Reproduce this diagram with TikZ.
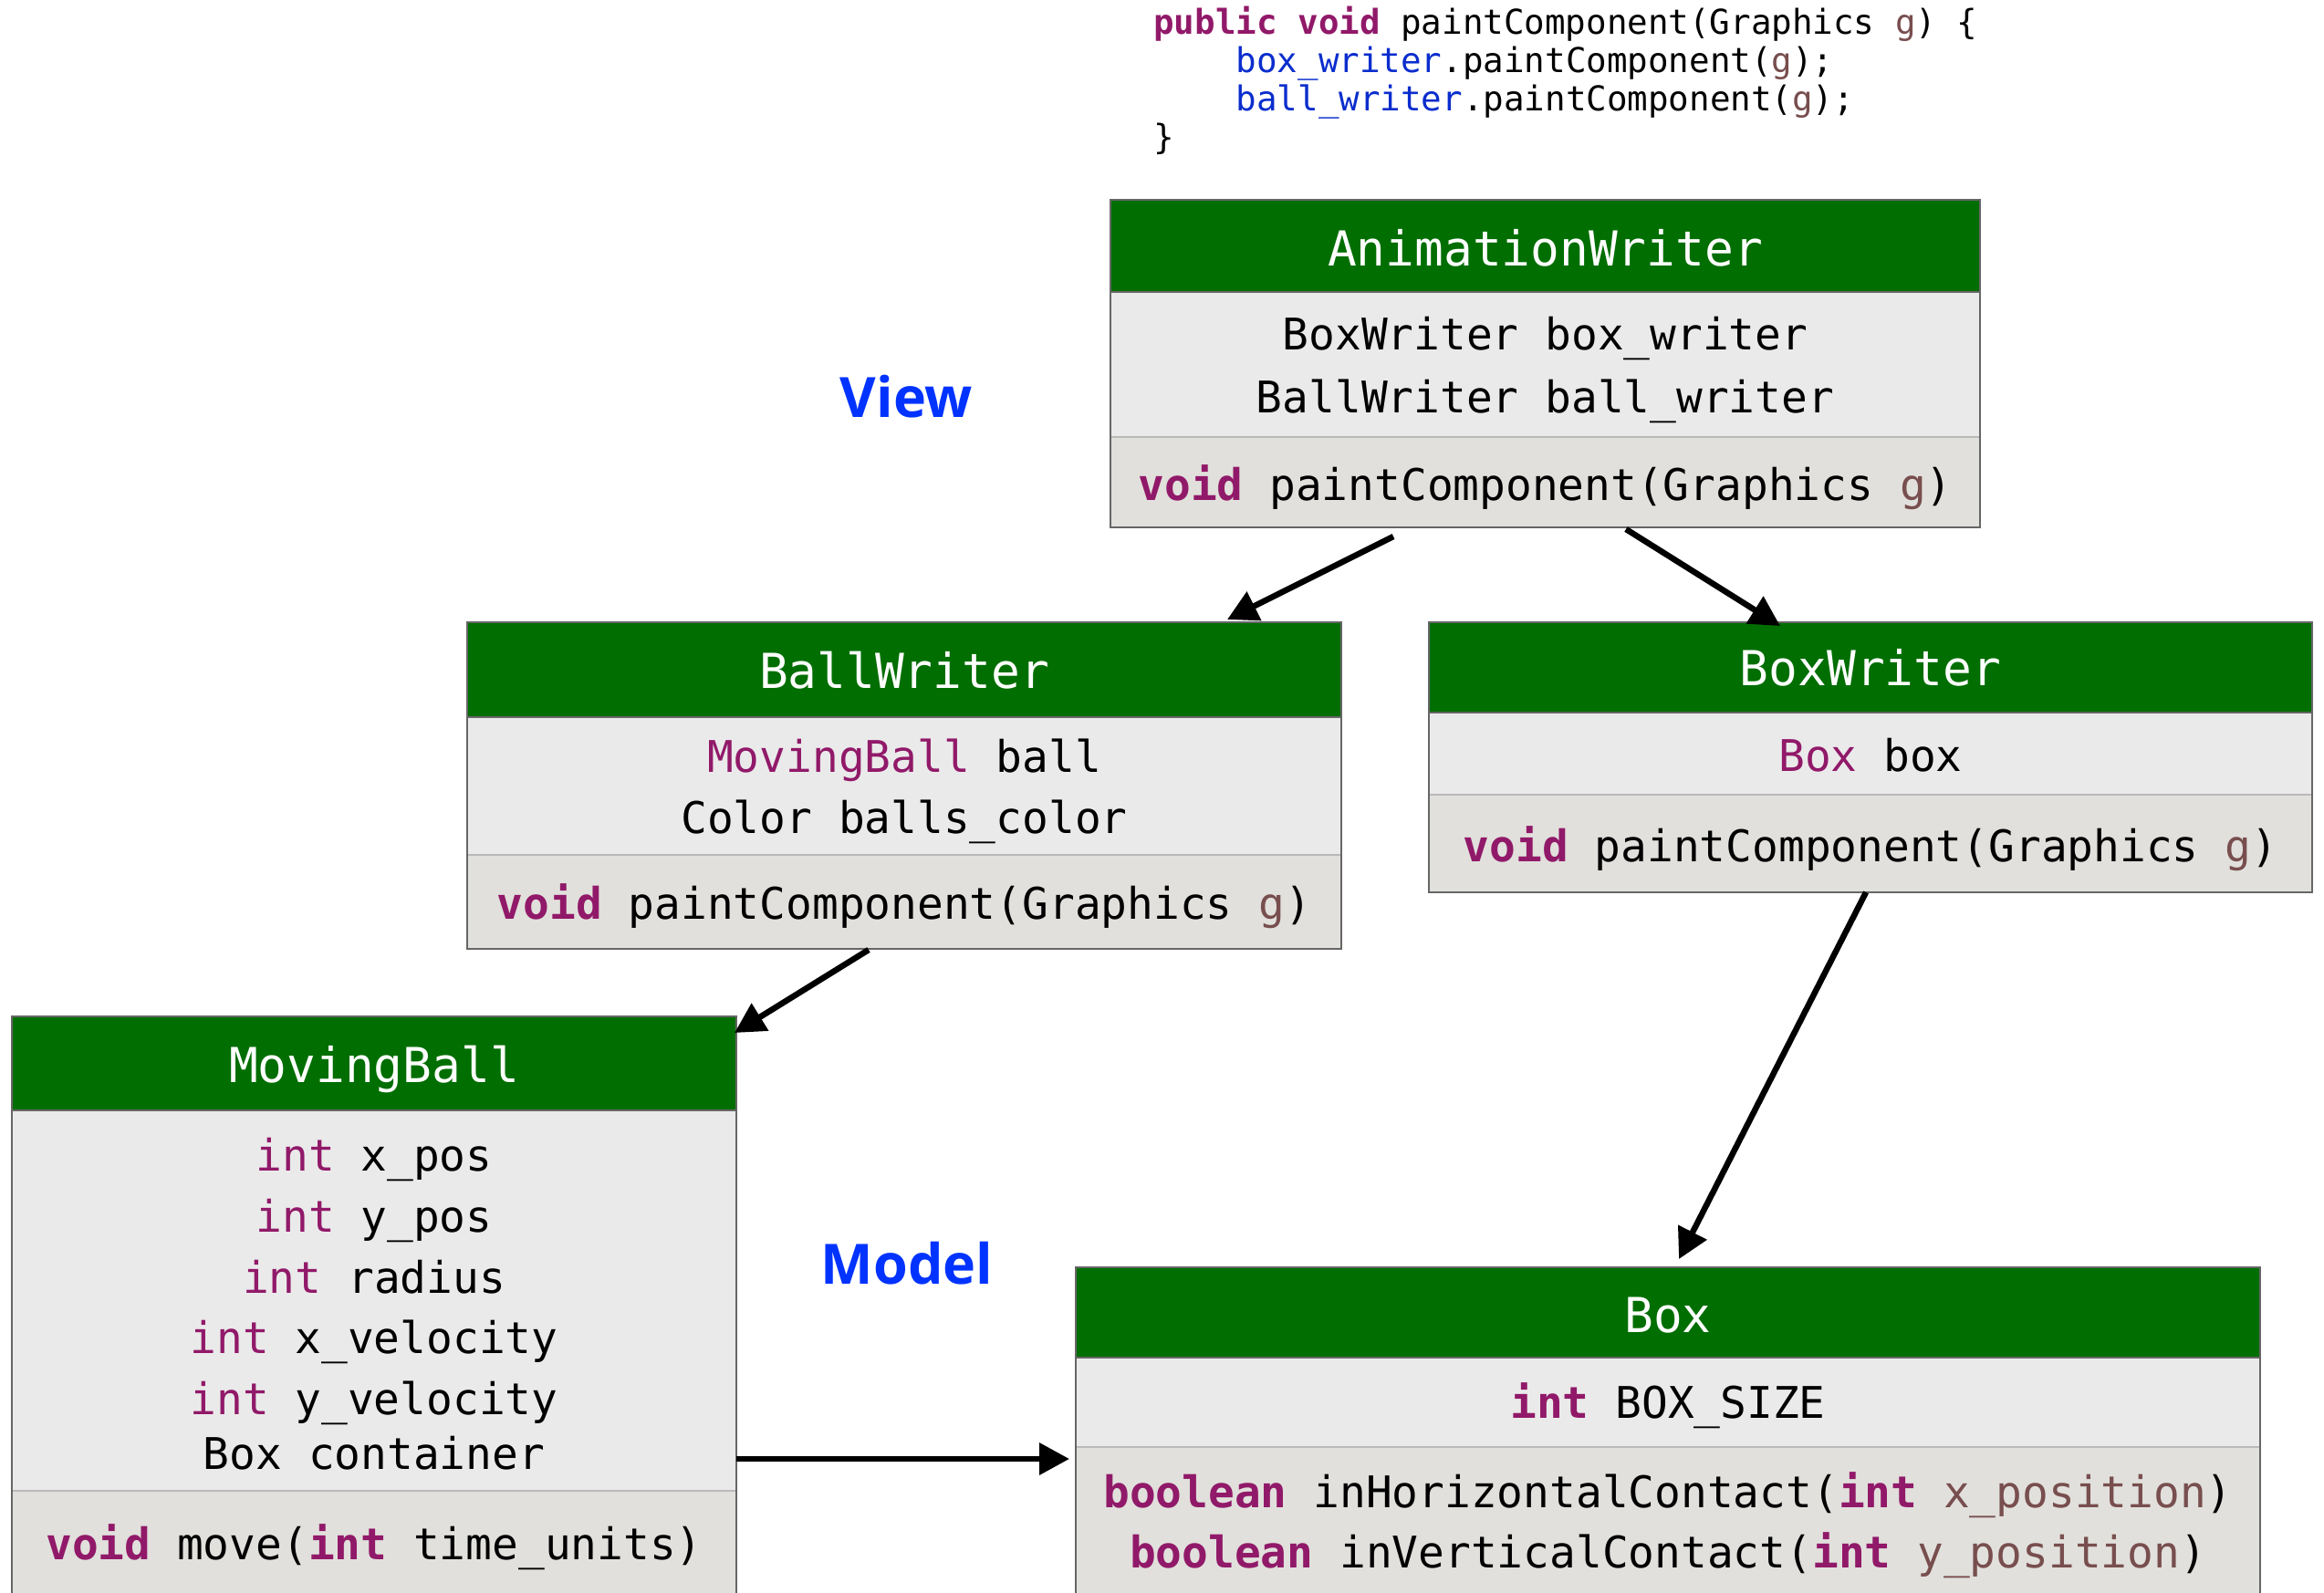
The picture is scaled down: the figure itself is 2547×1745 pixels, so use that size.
\documentclass[tikz,border=0pt]{standalone}
\usepackage{fontspec}
\setmonofont{DejaVu Sans Mono}
\newfontfamily\labelfont{Open Sans}
\usetikzlibrary{arrows.meta}
\definecolor{hdrgreen}{RGB}{0,110,0}
\definecolor{attrgray}{RGB}{234,234,234}
\definecolor{methgray}{RGB}{225,224,220}
\definecolor{framegray}{RGB}{102,102,102}
\definecolor{sepgray}{RGB}{185,185,185}
\definecolor{kwpurple}{RGB}{145,25,105}
\definecolor{parbrown}{RGB}{120,78,78}
\definecolor{fieldblue}{RGB}{10,45,205}
\definecolor{labelblue}{RGB}{0,51,255}
\newcommand\kw[1]{\textcolor{kwpurple}{\bfseries #1}}
\newcommand\ty[1]{\textcolor{kwpurple}{#1}}
\newcommand\pa[1]{\textcolor{parbrown}{#1}}
\newcommand\fd[1]{\textcolor{fieldblue}{#1}}
\frenchspacing
\begin{document}
\begin{tikzpicture}[x=0.5pt,y=-0.5pt,
  titletext/.style={anchor=base, text=white, font=\fontsize{26.4}{30}\selectfont\ttfamily, inner sep=0},
  rowtext/.style={anchor=base, text=black, font=\fontsize{23.9}{28}\selectfont\ttfamily, inner sep=0},
  codetext/.style={anchor=base west, text=black, font=\fontsize{18.75}{21}\selectfont\ttfamily, inner sep=0},
  classframe/.style={draw=framegray, line width=1pt, inner sep=0, outer sep=0, anchor=north west},
  hdrline/.style={draw=framegray, line width=1pt},
  sepline/.style={draw=sepgray, line width=1pt},
  conn/.style={-{Triangle[length=16.5pt,width=17pt]}, line width=3.25pt, black},
  layerlabel/.style={anchor=base, text=labelblue, font=\fontsize{30.5}{36}\selectfont\labelfont\bfseries, inner sep=0}]
\useasboundingbox (0,0) rectangle (2547,1745);
\clip (0,0) rectangle (2547,1745);

% code snippet
\node[codetext] (code0) at (1264,37) {\kw{public} \kw{void} paintComponent(Graphics \pa{g}) \{};
\node[codetext] (code1) at (1354.4,79) {\fd{box\_writer}.paintComponent(\pa{g});};
\node[codetext] (code2) at (1354.4,121) {\fd{ball\_writer}.paintComponent(\pa{g});};
\node[codetext] (code3) at (1264,163) {\}};

% labels
\node[layerlabel] (viewlbl) at (993.5,457) {View};
\node[layerlabel] (modellbl) at (994,1407) {Model};

% AnimationWriter
\fill[hdrgreen] (1217,219) rectangle (2170,320);
\fill[attrgray] (1217,320) rectangle (2170,479);
\fill[methgray] (1217,479) rectangle (2170,578);
\draw[sepline] (1217,479) -- (2170,479);
\draw[hdrline] (1217,320) -- (2170,320);
\node[classframe, minimum width=476.5pt, minimum height=179.5pt] (aw) at (1217,219) {};
\node[titletext] (awt) at (1693.5,291) {AnimationWriter};
\node[rowtext] (aw1) at (1693.5,383) {BoxWriter box\_writer};
\node[rowtext] (aw2) at (1693.5,452) {BallWriter ball\_writer};
\node[rowtext] (aw3) at (1693.5,548) {\kw{void} paintComponent(Graphics \pa{g})};

% BallWriter
\fill[hdrgreen] (512,682) rectangle (1470,786);
\fill[attrgray] (512,786) rectangle (1470,937);
\fill[methgray] (512,937) rectangle (1470,1040);
\draw[sepline] (512,937) -- (1470,937);
\draw[hdrline] (512,786) -- (1470,786);
\node[classframe, minimum width=479pt, minimum height=179pt] (ballw) at (512,682) {};
\node[titletext] (ballwt) at (991,754) {BallWriter};
\node[rowtext] (ballw1) at (991,846) {\ty{MovingBall} ball};
\node[rowtext] (ballw2) at (991,913) {Color balls\_color};
\node[rowtext] (ballw3) at (991,1007) {\kw{void} paintComponent(Graphics \pa{g})};

% BoxWriter
\fill[hdrgreen] (1566,682) rectangle (2534,781);
\fill[attrgray] (1566,781) rectangle (2534,871);
\fill[methgray] (1566,871) rectangle (2534,978);
\draw[sepline] (1566,871) -- (2534,871);
\draw[hdrline] (1566,781) -- (2534,781);
\node[classframe, minimum width=484pt, minimum height=148pt] (boxw) at (1566,682) {};
\node[titletext] (boxwt) at (2050,751) {BoxWriter};
\node[rowtext] (boxw1) at (2050,845) {\ty{Box} box};
\node[rowtext] (boxw2) at (2050,944) {\kw{void} paintComponent(Graphics \pa{g})};

% MovingBall
\fill[hdrgreen] (13,1114) rectangle (807,1217);
\fill[attrgray] (13,1217) rectangle (807,1634);
\fill[methgray] (13,1634) rectangle (807,1760);
\draw[sepline] (13,1634) -- (807,1634);
\draw[hdrline] (13,1217) -- (807,1217);
\node[classframe, minimum width=397pt, minimum height=323pt] (mb) at (13,1114) {};
\node[titletext] (mbt) at (410,1186) {MovingBall};
\node[rowtext] (mb1) at (410,1283) {\ty{int} x\_pos};
\node[rowtext] (mb2) at (410,1350) {\ty{int} y\_pos};
\node[rowtext] (mb3) at (410,1417) {\ty{int} radius};
\node[rowtext] (mb4) at (410,1483) {\ty{int} x\_velocity};
\node[rowtext] (mb5) at (410,1550) {\ty{int} y\_velocity};
\node[rowtext] (mb6) at (410,1610) {Box container};
\node[rowtext] (mb7) at (410,1709) {\kw{void} move(\kw{int} time\_units)};

% Box
\fill[hdrgreen] (1179,1389) rectangle (2477,1488);
\fill[attrgray] (1179,1488) rectangle (2477,1586);
\fill[methgray] (1179,1586) rectangle (2477,1760);
\draw[sepline] (1179,1586) -- (2477,1586);
\draw[hdrline] (1179,1488) -- (2477,1488);
\node[classframe, minimum width=649pt, minimum height=185.5pt] (box) at (1179,1389) {};
\node[titletext] (boxt) at (1828,1460) {Box};
\node[rowtext] (box1) at (1828,1554) {\kw{int} BOX\_SIZE};
\node[rowtext] (box2) at (1828,1652) {\kw{boolean} inHorizontalContact(\kw{int} \pa{x\_position})};
\node[rowtext] (box3) at (1828,1718) {\kw{boolean} inVerticalContact(\kw{int} \pa{y\_position})};

% connectors
\draw[conn] ([shift={(310,10)}]aw.south west) -- ([shift={(833,-3)}]ballw.north west);
\draw[conn] ([shift={(565,2)}]aw.south west) -- ([shift={(385,4)}]boxw.north west);
\draw[conn] ([shift={(440,1)}]ballw.south west) -- ([shift={(-2,18)}]mb.north east);
\draw[conn] ([shift={(479,0)}]boxw.south west) -- ([shift={(661,-9)}]box.north west);
\draw[conn] ([shift={(0,485)}]mb.north east) -- ([shift={(-7,210)}]box.north west);
\end{tikzpicture}
\end{document}
